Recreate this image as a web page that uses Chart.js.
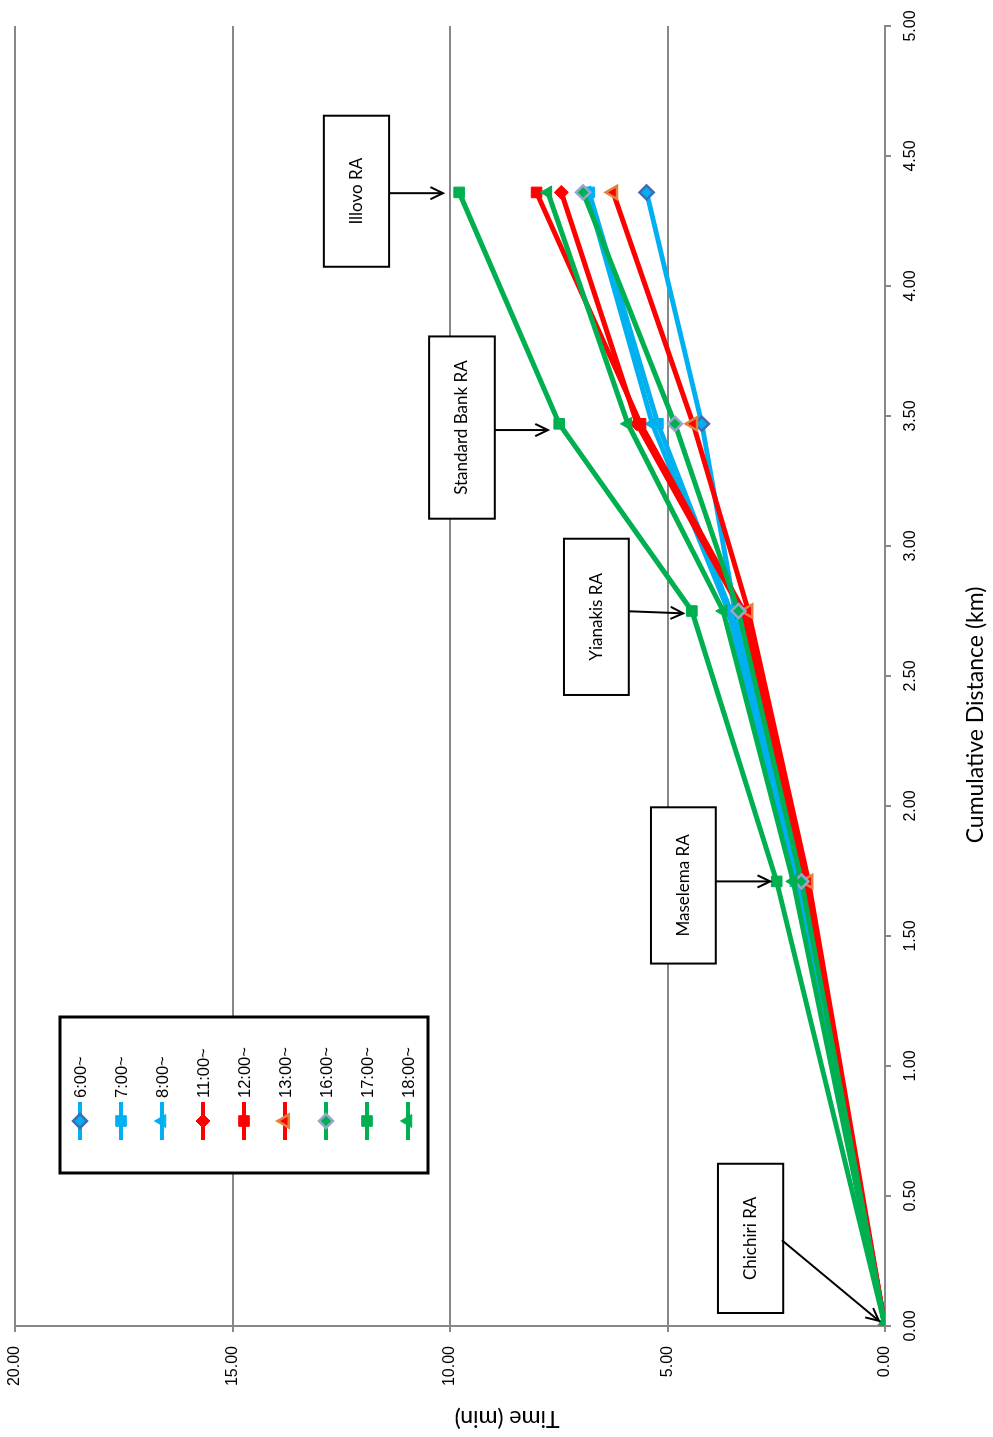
<!DOCTYPE html>
<html>
<head>
<meta charset="utf-8">
<script src="https://cdn.jsdelivr.net/npm/chart.js@4/dist/chart.umd.min.js"></script>
<style>
html,body{margin:0;padding:0;background:#fff;overflow:hidden;width:993px;height:1437px}
#wrap{position:absolute;left:0;top:0;width:1437px;height:993px;transform-origin:0 0;transform:translateY(1437px) rotate(-90deg);}
canvas{display:block}
</style>
</head>
<body>
<div id="wrap"><canvas id="c" width="1437" height="993"></canvas></div>
<script>
// ---------- data ----------
const distanceKm = [0, 1.71, 2.75, 3.47, 4.36];
const roundaboutNames = ['Chichiri RA', 'Maselema RA', 'Yianakis RA', 'Standard Bank RA', 'Illovo RA'];
const seriesLabels = ['6:00~', '7:00~', '8:00~', '11:00~', '12:00~', '13:00~', '16:00~', '17:00~', '18:00~'];
const time0600 = [0, 2.02, 3.45, 4.21, 5.48];
const time0700 = [0, 2.06, 3.55, 5.22, 6.80];
const time0800 = [0, 2.08, 3.60, 5.35, 6.85];
const time1100 = [0, 1.85, 3.30, 5.70, 7.44];
const time1200 = [0, 1.82, 3.25, 5.62, 8.01];
const time1300 = [0, 1.76, 3.14, 4.41, 6.25];
const time1600 = [0, 1.92, 3.37, 4.83, 6.94];
const time1700 = [0, 2.49, 4.44, 7.49, 9.79];
const time1800 = [0, 2.11, 3.72, 5.91, 7.75];
const distanceTicks = [0, 0.5, 1, 1.5, 2, 2.5, 3, 3.5, 4, 4.5, 5];
const timeTicks = [0, 5, 10, 15, 20];

// ---------- styles ----------
const BLUE = '#00B0F0', RED = '#FF0000', GREEN = '#00B050';
const seriesTimes = [time0600, time0700, time0800, time1100, time1200, time1300, time1600, time1700, time1800];
const seriesStyle = [
  {line: BLUE,  fill: BLUE,  border: '#3E6DB5', shape: 'rectRot',  r: 7,   bw: 2.5},
  {line: BLUE,  fill: BLUE,  border: BLUE,      shape: 'rect',     r: 7.5, bw: 1},
  {line: BLUE,  fill: BLUE,  border: BLUE,      shape: 'triangle', r: 7.5, bw: 1},
  {line: RED,   fill: RED,   border: RED,       shape: 'rectRot',  r: 7,   bw: 1},
  {line: RED,   fill: RED,   border: RED,       shape: 'rect',     r: 7.5, bw: 1},
  {line: RED,   fill: RED,   border: '#E3823D', shape: 'triangle', r: 7.5, bw: 2.5},
  {line: GREEN, fill: GREEN, border: '#97A6CC', shape: 'rectRot',  r: 7,   bw: 2.5},
  {line: GREEN, fill: GREEN, border: GREEN,     shape: 'rect',     r: 7.5, bw: 1},
  {line: GREEN, fill: GREEN, border: GREEN,     shape: 'triangle', r: 7.5, bw: 1}
];

// callout boxes (data units) — layout only
const callouts = [
  {idx: 0, d0: 0.05, d1: 0.624, t0: 2.34, t1: 3.84, from: [0.33, 2.37], to: [0.02, 0.14]},
  {idx: 1, d0: 1.394, d1: 1.995, t0: 3.89, t1: 5.38, from: [1.71, 3.89], to: [1.71, 2.64]},
  {idx: 2, d0: 2.427, d1: 3.028, t0: 5.89, t1: 7.38, from: [2.749, 5.89], to: [2.741, 4.64]},
  {idx: 3, d0: 3.105, d1: 3.806, t0: 8.97, t1: 10.48, from: [3.446, 8.97], to: [3.446, 7.75]},
  {idx: 4, d0: 4.074, d1: 4.655, t0: 11.40, t1: 12.90, from: [4.357, 11.40], to: [4.357, 10.16]}
];

const datasets = seriesLabels.map((lab, i) => ({
  label: lab,
  data: distanceKm.map((d, k) => ({x: d, y: seriesTimes[i][k]})),
  borderColor: seriesStyle[i].line,
  backgroundColor: seriesStyle[i].fill,
  borderWidth: 5,
  pointStyle: seriesStyle[i].shape,
  pointRadius: seriesStyle[i].r,
  pointBackgroundColor: seriesStyle[i].fill,
  pointBorderColor: seriesStyle[i].border,
  pointBorderWidth: seriesStyle[i].bw,
  tension: 0,
  showLine: true,
  order: seriesLabels.length - i
}));

const AXIS = '#878787';
const TICKFONT = {family: 'Liberation Sans', size: 16};

const overlay = {
  id: 'overlay',
  afterDatasetsDraw(chart) {
    const ctx = chart.ctx, xs = chart.scales.x, ys = chart.scales.y;
    ctx.save();
    // callouts
    callouts.forEach(c => {
      const x0 = xs.getPixelForValue(c.d0), x1 = xs.getPixelForValue(c.d1);
      const y0 = ys.getPixelForValue(c.t1), y1 = ys.getPixelForValue(c.t0);
      ctx.fillStyle = '#fff';
      ctx.fillRect(x0, y0, x1 - x0, y1 - y0);
      ctx.strokeStyle = '#000'; ctx.lineWidth = 2;
      ctx.strokeRect(x0, y0, x1 - x0, y1 - y0);
      ctx.fillStyle = '#000';
      ctx.font = '17px Lato';
      ctx.textAlign = 'center'; ctx.textBaseline = 'middle';
      ctx.fillText(roundaboutNames[c.idx], (x0 + x1) / 2, (y0 + y1) / 2);
      // arrow
      const ax = xs.getPixelForValue(c.from[0]), ay = ys.getPixelForValue(c.from[1]);
      const bx = xs.getPixelForValue(c.to[0]), by = ys.getPixelForValue(c.to[1]);
      ctx.beginPath(); ctx.moveTo(ax, ay); ctx.lineTo(bx, by); ctx.stroke();
      const ang = Math.atan2(by - ay, bx - ax), L = 14, w = 0.45;
      ctx.beginPath();
      ctx.moveTo(bx - L * Math.cos(ang - w), by - L * Math.sin(ang - w));
      ctx.lineTo(bx, by);
      ctx.lineTo(bx - L * Math.cos(ang + w), by - L * Math.sin(ang + w));
      ctx.stroke();
    });
    // legend
    const lx = 264, ly = 60, lw = 156, lh = 368;
    ctx.fillStyle = '#fff'; ctx.fillRect(lx, ly, lw, lh);
    ctx.strokeStyle = '#000'; ctx.lineWidth = 3; ctx.strokeRect(lx, ly, lw, lh);
    chart.data.datasets.forEach((ds, i) => {
      const y = ly + 20 + i * 41;
      ctx.strokeStyle = ds.borderColor; ctx.lineWidth = 4;
      ctx.beginPath(); ctx.moveTo(297, y); ctx.lineTo(335, y); ctx.stroke();
      ctx.fillStyle = ds.pointBackgroundColor; ctx.strokeStyle = ds.pointBorderColor;
      ctx.lineWidth = ds.pointBorderWidth;
      Chart.helpers.drawPoint(ctx, {pointStyle: ds.pointStyle, radius: ds.pointRadius, rotation: 0, borderWidth: ds.pointBorderWidth}, 316, y);
      ctx.fillStyle = '#000';
      ctx.font = '16.5px "Liberation Sans"';
      ctx.textAlign = 'left'; ctx.textBaseline = 'middle';
      ctx.fillText(ds.label, 339, y + 1);
    });
    // axis titles
    ctx.fillStyle = '#000';
    ctx.font = '23px Lato';
    ctx.textAlign = 'center'; ctx.textBaseline = 'middle';
    ctx.fillText('Cumulative Distance (km)', 722, 976);
    ctx.save();
    ctx.translate(19, 507);
    ctx.rotate(-Math.PI / 2);
    ctx.fillText('Time (min)', 0, 0);
    ctx.restore();
    ctx.restore();
  }
};

new Chart(document.getElementById('c'), {
  type: 'scatter',
  data: {datasets},
  options: {
    responsive: false,
    animation: false,
    devicePixelRatio: 1,
    layout: {padding: {left: 0, right: 26, top: 15, bottom: 0}},
    plugins: {legend: {display: false}, tooltip: {enabled: false}},
    scales: {
      x: {
        type: 'linear', min: 0, max: 5,
        afterBuildTicks: s => { s.ticks = distanceTicks.map(v => ({value: v})); },
        afterFit: s => { s.height = 108; s.paddingLeft = 0; s.paddingRight = 0; },
        ticks: {font: TICKFONT, color: '#000', padding: 10, maxRotation: 0, callback: v => Number(v).toFixed(2)},
        grid: {drawOnChartArea: false, drawTicks: true, tickLength: 6, color: AXIS, lineWidth: 2},
        border: {color: AXIS, width: 2}
      },
      y: {
        type: 'linear', min: 0, max: 20,
        afterBuildTicks: s => { s.ticks = timeTicks.map(v => ({value: v})); },
        afterFit: s => { s.width = 111; s.paddingTop = 0; s.paddingBottom = 0; },
        ticks: {font: TICKFONT, color: '#000', padding: 14, callback: v => Number(v).toFixed(2)},
        grid: {drawOnChartArea: true, drawTicks: true, tickLength: 6, color: AXIS, lineWidth: 2},
        border: {color: AXIS, width: 2}
      }
    }
  },
  plugins: [overlay]
});
</script>
</body>
</html>
